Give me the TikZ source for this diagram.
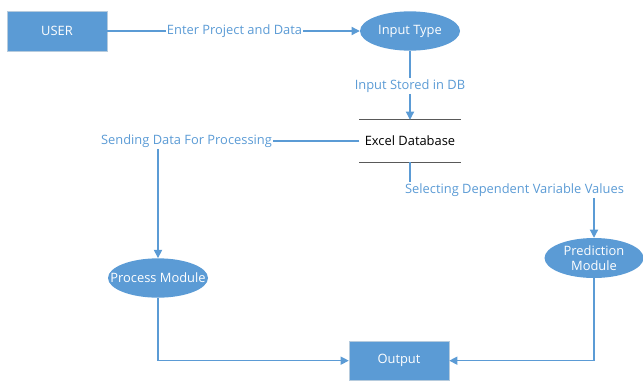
\documentclass[tikz,border=0pt]{standalone}
\usepackage{fontspec}
\setmainfont{Open Sans}
\usepackage{xcolor}
\usetikzlibrary{arrows.meta,positioning,calc,shapes.geometric}
\definecolor{dfdblue}{HTML}{5B9BD5}
\definecolor{dbgray}{HTML}{595959}

\begin{document}
\begin{tikzpicture}[
  box/.style={rectangle, minimum width=3.0cm, minimum height=1.2cm,
              text centered, font=\fontsize{11}{12.5}\selectfont,
              draw=dfdblue!80!black!40, fill=dfdblue, text=white},
  bubble/.style={ellipse, minimum width=3.0cm, minimum height=1.18cm,
                 inner sep=0pt, fill=dfdblue},
  btext/.style={align=center, font=\fontsize{11}{12.5}\selectfont, text=white,
                inner sep=0pt},
  lbl/.style={font=\fontsize{11}{12.5}\selectfont, text=dfdblue, inner sep=1pt},
  arr/.style={-{Triangle[length=7pt,width=7pt]}, line width=1pt, dfdblue},
  link/.style={line width=1pt, dfdblue},
]
\useasboundingbox (0,0) rectangle (19.29,-11.4);

\node[box]    (user) at (1.71,-0.93)   {USER};
\node[bubble, label={[btext]center:Input Type}] (inp) at (12.3,-0.93) {};
\node[rectangle, minimum width=3.03cm, minimum height=1.26cm,
      font=\fontsize{11}{12.5}\selectfont] (db) at (12.3,-4.23) {Excel Database};
\node[bubble, label={[btext]center:Process Module}] (proc) at (4.74,-8.34) {};
\node[bubble, minimum width=2.97cm, minimum height=1.2cm,
      label={[btext]center:Prediction\\Module}] (pred) at (17.82,-7.74) {};
\node[box, minimum height=1.17cm] (out) at (11.97,-10.82) {Output};

% data store lines
\draw[dbgray, line width=0.8pt] (db.north west) -- (db.north east);
\draw[dbgray, line width=0.8pt] (db.south west) -- (db.south east);

\node[lbl] (l1) at (7.035,-0.93)  {Enter Project and Data};
\node[lbl] (l2) at (12.3,-2.58)   {Input Stored in DB};
\node[lbl] (l3) at (5.595,-4.23)  {Sending Data For Processing};
\node[lbl] (l4) at (15.435,-5.7)  {Selecting Dependent Variable Values};

\draw[link] (user.east)--(l1.west); \draw[arr] (l1.east)--(inp.west);
\draw[link] (inp.south)--(l2.north); \draw[arr] (l2.south)--(db.north);
\draw[link] (db.west)--(l3.east); \draw[arr] (l3.south -| proc.north)--(proc.north);
\draw[link] (db.south)--(db.south |- l4.north); \draw[arr] (l4.south -| pred.north)--(pred.north);
\draw[arr] (proc.south) |- (out.west);
\draw[arr] (pred.south) |- (out.east);
\end{tikzpicture}
\end{document}
